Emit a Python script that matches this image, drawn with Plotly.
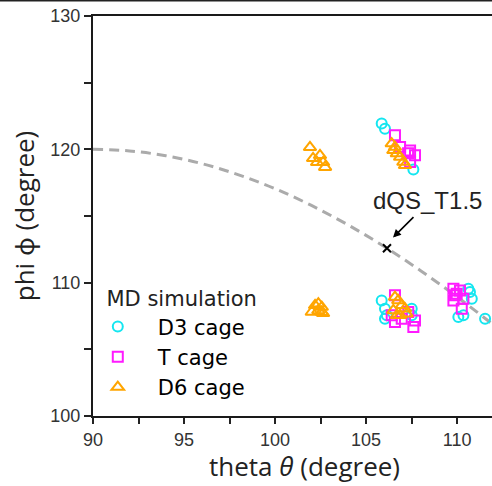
import plotly.graph_objects as go

# Model curve: phi as a function of theta
curve_theta = [90, 92, 94, 96, 98, 100, 102, 104, 106, 108, 110, 112]
curve_phi = [120.0, 119.88, 119.52, 118.92, 118.09, 117.05, 115.79, 114.34, 112.71, 110.90, 108.94, 106.83]

# Reference structure
ref_theta = [106.15]
ref_phi = [112.58]
ref_label = "dQS_T1.5"

# MD simulation samples
d3_theta = [105.86, 106.04, 107.60,
            105.86, 106.04, 106.14, 107.51, 107.51, 106.04,
            110.62, 110.81, 110.35, 110.07, 111.54, 110.71]
d3_phi = [121.93, 121.55, 118.48,
          108.67, 108.05, 107.55, 108.05, 107.55, 107.30,
          109.55, 108.80, 107.55, 107.42, 107.30, 109.30]

t_theta = [106.59, 106.87, 107.42, 107.69, 107.42, 107.31,
           106.59, 107.32, 107.69, 107.60, 106.59, 106.96, 106.41,
           109.80, 109.89, 110.16, 110.35, 109.80, 110.26, 109.98]
t_phi = [121.05, 120.17, 119.92, 119.55, 119.05, 119.70,
         109.05, 107.80, 107.17, 106.67, 107.05, 107.30, 107.55,
         109.55, 109.05, 109.42, 108.80, 108.67, 108.05, 109.17]

d6_theta = [101.92, 102.09, 102.47, 102.64, 102.75, 102.31,
            106.41, 106.50, 106.69, 106.87, 107.05, 107.14, 106.59,
            102.20, 102.38, 102.57, 102.02, 102.57, 102.38, 102.64,
            106.59, 106.77, 106.96, 107.14, 106.50, 106.69, 107.23, 106.87]
d6_phi = [120.15, 119.33, 119.55, 119.03, 118.66, 119.03,
          120.43, 119.93, 119.68, 119.42, 119.05, 118.80, 120.17,
          108.30, 108.42, 108.17, 107.80, 107.80, 107.92, 107.70,
          108.92, 108.67, 108.30, 108.05, 107.92, 107.55, 107.67, 107.55]

x_ticks = [90, 95, 100, 105, 110]
y_ticks = [100, 110, 120, 130]

# Non-breaking spaces widen the gap between legend symbol and label
pad = "\u00a0\u00a0\u00a0"

fig = go.Figure()

fig.add_trace(go.Scatter(
    x=curve_theta, y=curve_phi, mode="lines", showlegend=False,
    line=dict(color="#ababab", width=3, dash="10px,6px", shape="spline"),
))

fig.add_trace(go.Scatter(
    x=d3_theta, y=d3_phi, mode="markers", name=pad + "D3 cage",
    marker=dict(symbol="circle-open", size=10, color="#14e6f0", line=dict(width=2)),
))
fig.add_trace(go.Scatter(
    x=t_theta, y=t_phi, mode="markers", name=pad + "T cage",
    marker=dict(symbol="square-open", size=10, color="#ff1aff", line=dict(width=2)),
))
fig.add_trace(go.Scatter(
    x=d6_theta, y=d6_phi, mode="markers", name=pad + "D6 cage",
    marker=dict(symbol="triangle-up-open", size=11, color="#ffa500", line=dict(width=2)),
))

fig.add_trace(go.Scatter(
    x=ref_theta, y=ref_phi, mode="markers", showlegend=False,
    marker=dict(symbol="x-thin", size=8, color="black", line=dict(width=2, color="black")),
))

# Label and arrow pointing to the reference structure
fig.add_annotation(
    x=ref_theta[0] + 0.33, y=ref_phi[0] + 0.8, xref="x", yref="y",
    ax=22, ay=-22, text="", showarrow=True,
    arrowhead=2, arrowsize=1, arrowwidth=1.6, arrowcolor="black",
)
fig.add_annotation(
    x=ref_theta[0] + 2.2, y=ref_phi[0] + 3.6, xref="x", yref="y",
    text=ref_label, showarrow=False,
    font=dict(family="Liberation Sans, Arial, sans-serif", size=24, color="#222222"),
)

axis_font = dict(family="Liberation Sans, Arial, sans-serif", size=18, color="#333333")
title_font = dict(family="Open Sans, Noto Sans, sans-serif", size=26, color="#222222")

# Horizontal axis title, placed slightly right of the plot centre
fig.add_annotation(
    x=0.529, y=-0.125, xref="paper", yref="paper",
    xanchor="center", yanchor="middle", showarrow=False,
    text="theta <i>θ</i> (degree)", font=title_font,
)

# Thin frame line along the top edge of the figure
fig.add_shape(type="line", xref="paper", yref="paper",
              x0=-0.3, x1=1.0, y0=1.0385, y1=1.0385,
              line=dict(color="#222222", width=2))

fig.update_layout(
    width=492, height=486,
    margin=dict(l=93, r=0, t=16, b=70),
    paper_bgcolor="white", plot_bgcolor="white",
    showlegend=True,
    legend=dict(
        x=0.012, y=0.3425, xanchor="left", yanchor="top",
        bgcolor="rgba(0,0,0,0)",
        font=dict(family="DejaVu Sans, sans-serif", size=21, color="black"),
        title=dict(text="\u00a0MD simulation",
                   font=dict(family="DejaVu Sans, sans-serif", size=21, color="#222222")),
    ),
    xaxis=dict(
        range=[90, 111.92], tickvals=x_ticks, ticktext=[str(v) for v in x_ticks],
        ticks="outside", ticklen=6, tickwidth=1.5, tickcolor="#222222",
        minor=dict(dtick=2.5, tick0=90, ticks="outside", ticklen=6, tickwidth=1.5, tickcolor="#222222"),
        showline=True, linecolor="#1a1a1a", linewidth=2, mirror=True,
        showgrid=False, zeroline=False, tickfont=axis_font,
    ),
    yaxis=dict(
        range=[100, 130], tickvals=y_ticks, ticktext=[str(v) for v in y_ticks],
        ticks="outside", ticklen=7, tickwidth=1.5, tickcolor="#222222",
        minor=dict(dtick=5, tick0=100, ticks="outside", ticklen=7, tickwidth=1.5, tickcolor="#222222"),
        showline=True, linecolor="#1a1a1a", linewidth=2, mirror=False,
        showgrid=False, zeroline=False, tickfont=axis_font,
        title=dict(text="phi ϕ (degree)", font=title_font, standoff=8),
    ),
)

fig.write_html("out.html")
